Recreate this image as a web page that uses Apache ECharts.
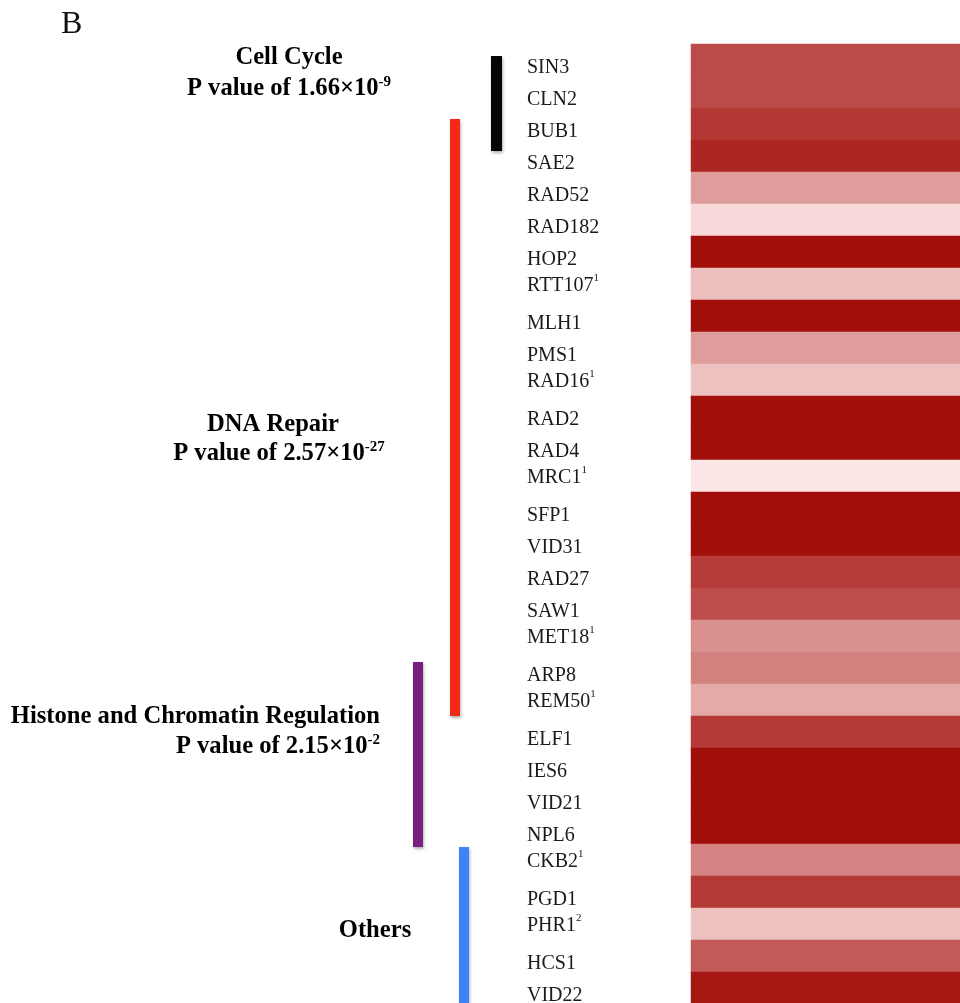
<!DOCTYPE html>
<html>
<head>
<meta charset="utf-8">
<style>
  html, body { margin: 0; padding: 0; background: #ffffff; }
  #chart { width: 960px; height: 1003px; }
</style>
<script src="https://cdn.jsdelivr.net/npm/echarts@6/dist/echarts.min.js"></script>
</head>
<body>
<div id="chart"></div>
<script>
// ---- data ----
const genes = ['SIN3','CLN2','BUB1','SAE2','RAD52','RAD182','HOP2','RTT107','MLH1','PMS1','RAD16','RAD2','RAD4','MRC1','SFP1','VID31','RAD27','SAW1','MET18','ARP8','REM50','ELF1','IES6','VID21','NPL6','CKB2','PGD1','PHR1','HCS1','VID22'];
const geneNotes = ['','','','','','','','1','','','1','','','1','','','','','1','','1','','','','','1','','2','',''];
const scores = [72,72,81,89,34,6,100,18,100,34,17,100,100,0,100,100,79,71,40,47,28,80,100,100,100,46,80,17,65,96];
const columns = ['score'];

const groupTitles = ['Cell Cycle','DNA Repair','Histone and Chromatin Regulation','Others'];
const pMantissa = ['1.66','2.57','2.15',null];
const pExponent = ['-9','-27','-2',null];
const groupStart = [0, 2, 19, 25];
const groupEnd = [2, 20, 24, 29];
const panelLetter = 'B';

// ---- styles / layout ----
const SERIF = '"Liberation Serif", "Times New Roman", serif';
const bracketStyle = [
  { x: 491, w: 11, color: '#050505', dTop: 12, dBot: 11 },
  { x: 450, w: 10, color: '#f5281a', dTop: 11, dBot: 0 },
  { x: 413, w: 10, color: '#7a1e80', dTop: 10, dBot: 3 },
  { x: 459, w: 10, color: '#4083f6', dTop: 3, dBot: 0 }
];
const titleLayout = [
  { x1: 289, x2: 289, y1: 58, y2: 89, align: 'center' },
  { x1: 273, x2: 279, y1: 425, y2: 454, align: 'center' },
  { x1: 380, x2: 380, y1: 717, y2: 747, align: 'right' },
  { x1: 375, x2: 375, y1: 931, y2: 0, align: 'center' }
];
const titleRich = {
  b: { fontFamily: SERIF, fontWeight: 'bold', fontSize: 24.6, lineHeight: 28, color: '#111' },
  s: { fontFamily: SERIF, fontWeight: 'bold', fontSize: 15, lineHeight: 24, verticalAlign: 'top', color: '#111' }
};

const graphics = [{
  type: 'text', x: 61, y: 25,
  style: { text: panelLetter, font: '32px ' + SERIF, fill: '#111', align: 'left', verticalAlign: 'middle' }
}];
groupTitles.forEach((t, i) => {
  const L = titleLayout[i];
  graphics.push({
    type: 'text', x: L.x1, y: L.y1,
    style: { text: '{b|' + t + '}', rich: titleRich, align: L.align, verticalAlign: 'middle' }
  });
  if (pMantissa[i]) {
    graphics.push({
      type: 'text', x: L.x2, y: L.y2,
      style: { text: '{b|P value of ' + pMantissa[i] + '×10}{s|' + pExponent[i] + '}', rich: titleRich, align: L.align, verticalAlign: 'middle' }
    });
  }
});

const heatData = genes.map((g, i) => [0, i, scores[i]]);
const bracketData = groupStart.map((s, i) => [0, s, groupEnd[i], i]);

const chart = echarts.init(document.getElementById('chart'), null, { renderer: 'canvas' });
chart.setOption({
  backgroundColor: '#ffffff',
  animation: false,
  grid: { left: 691, right: 0, top: 44, height: 960, containLabel: false, outerBoundsMode: 'none' },
  xAxis: {
    type: 'category', data: columns, show: false
  },
  yAxis: {
    type: 'category', data: genes, inverse: true,
    axisLine: { show: false }, axisTick: { show: false }, splitLine: { show: false },
    axisLabel: {
      interval: 0, align: 'left', margin: 164,
      formatter: function (value, index) {
        return geneNotes[index] ? '{n|' + value + '}{s|' + geneNotes[index] + '}' : '{m|' + value + '}';
      },
      rich: {
        m: { fontFamily: SERIF, fontSize: 20, lineHeight: 22, color: '#1a1a1a', padding: [16, 0, 0, 0] },
        n: { fontFamily: SERIF, fontSize: 20, lineHeight: 22, color: '#1a1a1a', padding: [4, 0, 0, 0] },
        s: { fontFamily: SERIF, fontSize: 11, lineHeight: 18, color: '#1a1a1a', verticalAlign: 'top' }
      }
    }
  },
  visualMap: {
    show: false, type: 'continuous', dimension: 2, min: 0, max: 100,
    seriesIndex: 0,
    inRange: { color: ['#fde6e6', '#a20f0a'] }
  },
  graphic: graphics,
  series: [
    {
      type: 'heatmap', data: heatData,
      itemStyle: { borderWidth: 0 },
      emphasis: { disabled: true }
    },
    {
      type: 'custom', coordinateSystem: 'cartesian2d', data: bracketData,
      encode: { x: 0, y: [1, 2] }, clip: false, silent: true,
      renderItem: function (params, api) {
        const st = bracketStyle[api.value(3)];
        const rowH = api.size([0, 1])[1];
        const yA = api.coord([0, api.value(1)])[1] - rowH / 2 + st.dTop;
        const yB = api.coord([0, api.value(2)])[1] + rowH / 2 + st.dBot;
        return {
          type: 'rect',
          shape: { x: st.x, y: yA, width: st.w, height: yB - yA },
          style: { fill: st.color, shadowBlur: 3, shadowColor: 'rgba(0,0,0,0.3)', shadowOffsetX: 1, shadowOffsetY: 2 }
        };
      }
    }
  ]
});
</script>
</body>
</html>
